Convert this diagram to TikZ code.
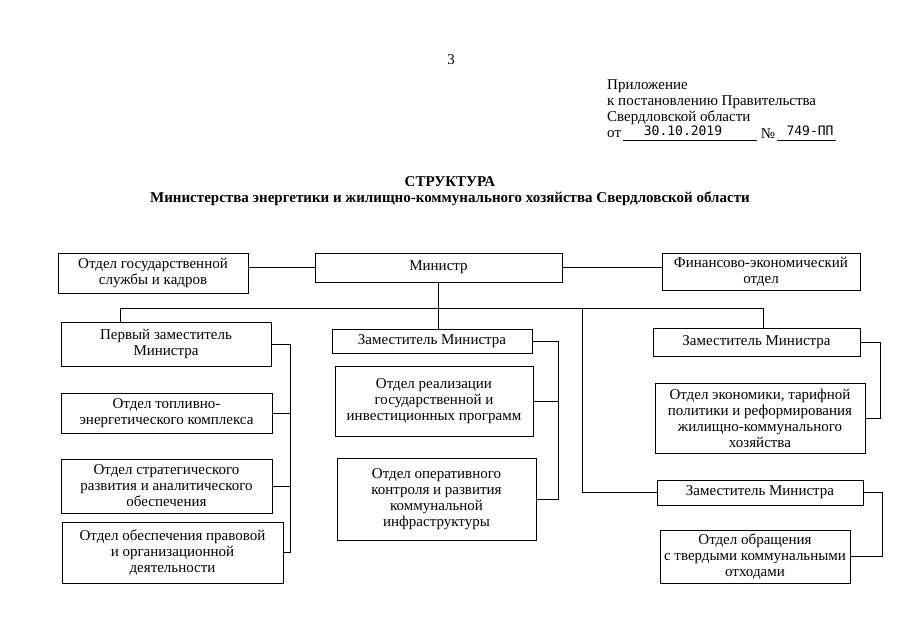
\documentclass[tikz,border=0pt]{standalone}
\usepackage{fontspec}
\setmainfont{Liberation Serif}
\newfontfamily\monofnt{DejaVu Sans Mono}
\begin{document}
\begin{tikzpicture}[x=1pt,y=-1pt,
  box/.style={draw,line width=0.8pt,inner sep=0pt,align=center,font=\fontsize{15}{16}\selectfont},
  conn/.style={line width=0.8pt},
  txt/.style={inner sep=0pt,font=\fontsize{15}{16}\selectfont}]
\useasboundingbox (0,0) rectangle (905,640);
% header
\node[txt] (pg) at (451,60) {3};
\node[txt,anchor=west] (h1) at (607,86) {Приложение};
\node[txt,anchor=west] (h2) at (607,102) {к постановлению Правительства};
\node[txt,anchor=west] (h3) at (607,118) {Свердловской области};
\node[txt,anchor=west] (h4) at (607,134) {от};
\node[txt,font=\monofnt\fontsize{13}{14}\selectfont] (dt) at (683,131) {30.10.2019};
\node[txt] (no) at (768,134) {№};
\node[txt,font=\monofnt\fontsize{13}{14}\selectfont] (num) at (810,131) {749-ПП};
\coordinate (u1a) at (623,140); \coordinate (u1b) at (757,140);
\coordinate (u2a) at (777,140); \coordinate (u2b) at (836,140);
\draw[line width=0.6pt] (u1a) -- (u1b);
\draw[line width=0.6pt] (u2a) -- (u2b);
% title
\node[txt,font=\bfseries\fontsize{15}{16}\selectfont] (t1) at (450,182) {СТРУКТУРА};
\node[txt,font=\bfseries\fontsize{15}{16}\selectfont] (t2) at (450,199) {Министерства энергетики и жилищно-коммунального хозяйства Свердловской области};
% boxes
\node[box,minimum width=247,minimum height=29] (min) at (438.5,267.5) {Министр};
\node[box,minimum width=190,minimum height=40] (gos) at (153,273) {Отдел государственной\\службы и кадров};
\node[box,minimum width=198,minimum height=37] (fin) at (761,271.5) {Финансово-экономический\\отдел};
\node[box,minimum width=210,minimum height=44] (dep1) at (166,344) {Первый заместитель\\Министра};
\node[box,minimum width=211,minimum height=40] (fuel) at (166.5,413) {Отдел топливно-\\энергетического комплекса};
\node[box,minimum width=211,minimum height=54] (strat) at (166.5,486) {Отдел стратегического\\развития и аналитического\\обеспечения};
\node[box,minimum width=221,minimum height=61] (legal) at (172.5,552.5) {Отдел обеспечения правовой\\и организационной\\деятельности};
\node[box,minimum width=200,minimum height=24] (dep2) at (432,341) {Заместитель Министра};
\node[box,minimum width=198,minimum height=70] (real) at (434,401) {Отдел реализации\\государственной и\\инвестиционных программ};
\node[box,minimum width=199,minimum height=82] (oper) at (436.5,499) {Отдел оперативного\\контроля и развития\\коммунальной\\инфраструктуры};
\node[box,minimum width=207,minimum height=28] (dep3) at (756.5,342) {Заместитель Министра};
\node[box,minimum width=210,minimum height=70] (econ) at (760,418) {Отдел экономики, тарифной\\политики и реформирования\\жилищно-коммунального\\хозяйства};
\node[box,minimum width=206,minimum height=25] (dep4) at (760,492.5) {Заместитель Министра};
\node[box,minimum width=190,minimum height=53] (waste) at (755,556.5) {Отдел обращения\\с твердыми коммунальными\\отходами};
% connectors
\draw[conn] (gos.east |- min.west) -- (min.west);
\draw[conn] (min.east) -- (min.east -| fin.west);
\coordinate (busL) at (120,308);
\coordinate (busR) at (763,308);
\coordinate (busM) at (582,308);
\draw[conn] (busL |- dep1.north) -- (busL) -- (busR) -- (busR |- dep3.north);
\draw[conn] (min.south) -- (min.south |- dep2.north);
\draw[conn] (busM) -- (busM |- dep4.west) -- (dep4.west);
% left bracket
\coordinate (brL) at (290,0);
\draw[conn] (dep1.east) -- (dep1.east -| brL) -- (brL |- legal.east) -- (legal.east);
\draw[conn] (brL |- fuel.east) -- (fuel.east);
\draw[conn] (brL |- strat.east) -- (strat.east);
% middle bracket
\coordinate (brM) at (558,0);
\draw[conn] (dep2.east) -- (dep2.east -| brM) -- (brM |- oper.east) -- (oper.east);
\draw[conn] (brM |- real.east) -- (real.east);
% right brackets
\coordinate (brR) at (880,0);
\draw[conn] (dep3.east) -- (dep3.east -| brR) -- (brR |- econ.east) -- (econ.east);
\coordinate (brR2) at (882,0);
\draw[conn] (dep4.east) -- (dep4.east -| brR2) -- (brR2 |- waste.east) -- (waste.east);
\end{tikzpicture}
\end{document}
